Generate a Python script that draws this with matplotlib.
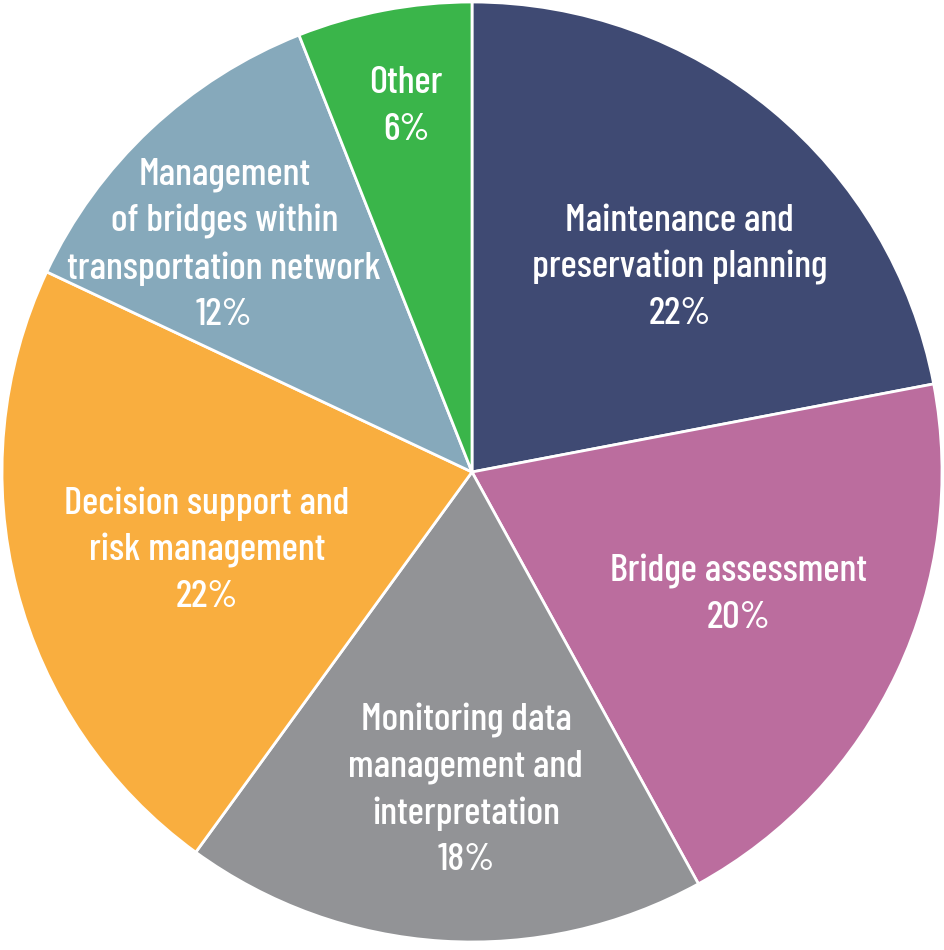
import matplotlib
matplotlib.use("Agg")
from matplotlib import pyplot as plt
import numpy as np

# slice data, clockwise from 12 o'clock
labels = [
    "Maintenance and\npreservation planning",
    "Bridge assessment",
    "Monitoring data\nmanagement and\ninterpretation",
    "Decision support and\nrisk management",
    "Management\nof bridges within\ntransportation network",
    "Other",
]
shares = [22, 20, 18, 22, 12, 6]
colors = ["#3f4a73", "#bb6d9e", "#929396", "#f9ae3f", "#86a9bb", "#3ab54a"]

# label placement (radius as fraction of pie radius, angle tweak in degrees)
label_r = [0.62, 0.625, 0.677, 0.588, 0.715, 0.79]
label_da = [-5.8, 0.5, 2.5, 2.0, 4.3, -0.6]

plt.rcParams["font.family"] = ["Barlow Condensed", "DejaVu Sans"]

fig = plt.figure(figsize=(9.45, 9.5), dpi=100)
ax = fig.add_axes([0, 0, 1, 1])
R = 470.0

wedges, _ = ax.pie(shares, colors=colors, startangle=90, counterclock=False,
                   radius=1.0, wedgeprops=dict(edgecolor="white", linewidth=2))
ax.set_xlim(-472 / R, (945 - 472) / R)
ax.set_ylim(-(950 - 472) / R, 472 / R)
ax.axis("off")

for w, lab, val, r, da in zip(wedges, labels, shares, label_r, label_da):
    mid = np.deg2rad((w.theta1 + w.theta2) / 2 + da)
    x, y = r * np.cos(mid), r * np.sin(mid)
    ax.text(x, y, f"{lab}\n{val}%", ha="center", va="center", color="white",
            fontsize=28, fontweight="medium", linespacing=1.45)

fig.savefig("out.png", dpi=100)
